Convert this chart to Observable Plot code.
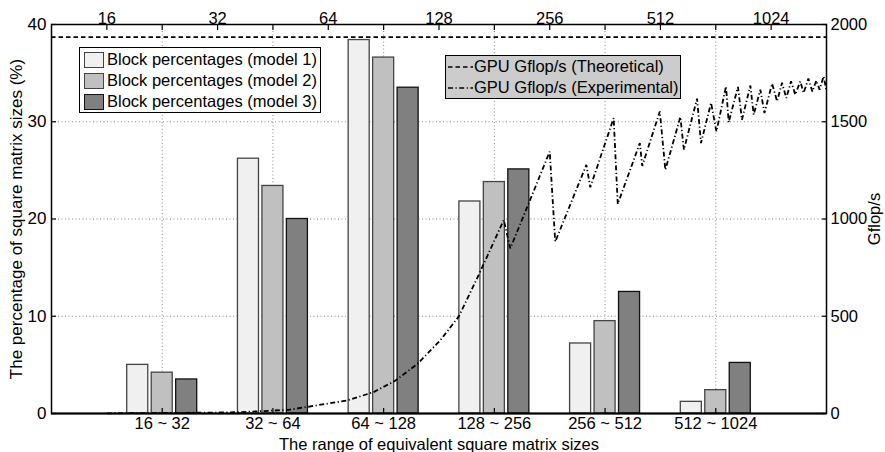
<!DOCTYPE html>
<html>
<head>
<meta charset="utf-8">
<script src="https://cdn.jsdelivr.net/npm/d3@7"></script>
<script src="https://cdn.jsdelivr.net/npm/@observablehq/plot@0.6"></script>
<style>
  html, body { margin: 0; padding: 0; background: white; }
  #wrap { position: relative; width: 885px; height: 452px; font-family: "Liberation Sans", Arial, sans-serif; }
  .legend { position: absolute; border: 1.5px solid black; box-sizing: border-box; font-size: 16.5px; line-height: 21px; }
  .row { display: flex; align-items: center; height: 21px; white-space: nowrap; }
  .sw { width: 20px; height: 16px; border: 1.2px solid #333; box-sizing: border-box; margin: 0 3px 0 4px; }
</style>
</head>
<body>
<div id="wrap"></div>
<script>
// ---- data ----
const categories = ["16 ~ 32", "32 ~ 64", "64 ~ 128", "128 ~ 256", "256 ~ 512", "512 ~ 1024"];
const model1 = [5.0, 26.2, 38.4, 21.8, 7.2, 1.2];
const model2 = [4.2, 23.4, 36.6, 23.8, 9.5, 2.4];
const model3 = [3.5, 20.0, 33.5, 25.1, 12.5, 5.2];
const seriesNames = ["Block percentages (model 1)", "Block percentages (model 2)", "Block percentages (model 3)"];
const seriesFills = ["#f0f0f0", "#c0c0c0", "#808080"];

const topTicks = [16, 32, 64, 128, 256, 512, 1024];
const leftTicks = [0, 10, 20, 30, 40];
const rightTicks = [0, 500, 1000, 1500, 2000];

const theoreticalGflops = 1935;
const expSizes = [16, 24, 32, 37, 50, 57, 72, 85, 97, 112, 129, 145, 164, 192, 200, 225, 256, 265,
  322, 330, 382, 392, 450, 457, 510, 528, 580, 593, 644, 660, 703, 727, 772, 785, 832, 853,
  899, 918, 957, 982, 1030, 1063, 1096, 1126, 1160, 1191, 1229, 1255, 1293, 1325, 1359, 1387, 1422, 1446];
const expGflops = [1, 3, 5, 7, 19, 36, 67, 110, 167, 256, 376, 500, 711, 995, 849, 1085, 1347, 883,
  1278, 1163, 1519, 1077, 1390, 1273, 1553, 1253, 1524, 1356, 1619, 1390, 1597, 1450, 1682, 1497, 1679, 1510,
  1686, 1536, 1665, 1545, 1696, 1605, 1700, 1622, 1708, 1639, 1708, 1648, 1722, 1655, 1712, 1665, 1734, 1665];

// ---- derived tables ----
const ratio = rightTicks[rightTicks.length - 1] / leftTicks[leftTicks.length - 1]; // Gflop/s per percent
const catPos = categories.map((c, i) => 2 ** (4.5 + i)); // geometric middle of each range
const catLabel = new Map(catPos.map((p, i) => [p, categories[i]]));
const barW = 0.19, barStep = 0.221; // in log2 units
const models = [model1, model2, model3];
const barTables = models.map((vals, m) => vals.map((v, i) => {
  const c = Math.log2(catPos[i]) + (m - 1) * barStep;
  return {x1: 2 ** (c - barW / 2), x2: 2 ** (c + barW / 2), value: v};
}));
const expTable = expSizes.map((s, i) => ({size: s, g: expGflops[i]}));

const grid = {stroke: "#8a8a8a", strokeOpacity: 1, strokeDasharray: "1,2.5", strokeWidth: 1};
const expDash = "5,2.5,1.2,2.5";

const chart = Plot.plot({
  width: 885, height: 452,
  marginTop: 24, marginBottom: 39, marginLeft: 51, marginRight: 59,
  style: {fontFamily: "Liberation Sans, Arial, sans-serif", fontSize: "16.5px", color: "black", background: "white", overflow: "visible"},
  x: {type: "log", base: 2, domain: [2 ** 3.5, 2 ** 10.5]},
  y: {domain: [leftTicks[0], leftTicks[leftTicks.length - 1]]},
  marks: [
    Plot.gridY({ticks: leftTicks.slice(1, -1), ...grid}),
    Plot.gridX({ticks: catPos, ...grid}),
    ...barTables.map((t, m) => Plot.rect(t, {x1: "x1", x2: "x2", y1: 0, y2: "value", fill: seriesFills[m], stroke: m === 2 ? "#111" : "#444", strokeWidth: 1.3})),
    Plot.ruleY([theoreticalGflops / ratio], {stroke: "black", strokeWidth: 1.6, strokeDasharray: "4.5,3", strokeLinecap: "butt"}),
    Plot.line(expTable, {x: "size", y: d => d.g / ratio, stroke: "black", strokeWidth: 1.8, strokeDasharray: expDash, strokeLinecap: "butt", strokeLinejoin: "miter", curve: "linear"}),
    Plot.frame({stroke: "black", strokeWidth: 1.5}),
    Plot.ruleY([0], {stroke: "black", strokeWidth: 2}),
    Plot.axisX({anchor: "top", ticks: topTicks, tickFormat: d => String(d), tickSize: -5, tickPadding: 6, label: null, strokeWidth: 1.2}),
    Plot.axisX({anchor: "top", ticks: catPos, tickFormat: () => "", tickSize: -5, tickPadding: 0, label: null, strokeWidth: 1.2}),
    Plot.axisX({anchor: "bottom", ticks: catPos, tickFormat: d => catLabel.get(d), tickSize: -5, tickPadding: 9,
      label: "The range of equivalent square matrix sizes", labelAnchor: "center", labelOffset: 36, labelArrow: "none", strokeWidth: 1.2}),
    Plot.axisY({anchor: "left", ticks: leftTicks, tickSize: -5, tickPadding: 10,
      label: "The percentage of square matrix sizes (%)", labelAnchor: "center", labelOffset: 42, labelArrow: "none", strokeWidth: 1.2, fontSize: "17px"}),
    Plot.axisY({anchor: "right", ticks: leftTicks, tickFormat: d => String(d * ratio), tickSize: -5, tickPadding: 9,
      label: "Gflop/s", labelAnchor: "center", labelOffset: 53, labelArrow: "none", strokeWidth: 1.2})
  ]
});

const wrap = document.getElementById("wrap");
wrap.appendChild(chart);

// ---- legends (HTML overlays inside the plot area) ----
const lg1 = document.createElement("div");
lg1.className = "legend";
Object.assign(lg1.style, {left: "79px", top: "47px", width: "242px", height: "66px", background: "white", paddingTop: "1px"});
seriesNames.forEach((name, m) => {
  const r = document.createElement("div");
  r.className = "row";
  const sw = document.createElement("div");
  sw.className = "sw";
  sw.style.background = seriesFills[m];
  sw.style.borderColor = m === 2 ? "#111" : "#444";
  r.appendChild(sw);
  r.appendChild(document.createTextNode(name));
  lg1.appendChild(r);
});
wrap.appendChild(lg1);

const lineNames = ["GPU Gflop/s (Theoretical)", "GPU Gflop/s (Experimental)"];
const lineDash = ["4.5,3", expDash];
const lg2 = document.createElement("div");
lg2.className = "legend";
Object.assign(lg2.style, {left: "445px", top: "55px", width: "236px", height: "44px", background: "#cccccc", paddingTop: "0px"});
lineNames.forEach((name, k) => {
  const r = document.createElement("div");
  r.className = "row";
  r.innerHTML = `<svg width="28" height="10" style="flex:none"><line x1="2" y1="5" x2="27" y2="5" stroke="black" stroke-width="1.6" stroke-dasharray="${lineDash[k]}"/></svg>`;
  r.appendChild(document.createTextNode(name));
  lg2.appendChild(r);
});
wrap.appendChild(lg2);
</script>
</body>
</html>
